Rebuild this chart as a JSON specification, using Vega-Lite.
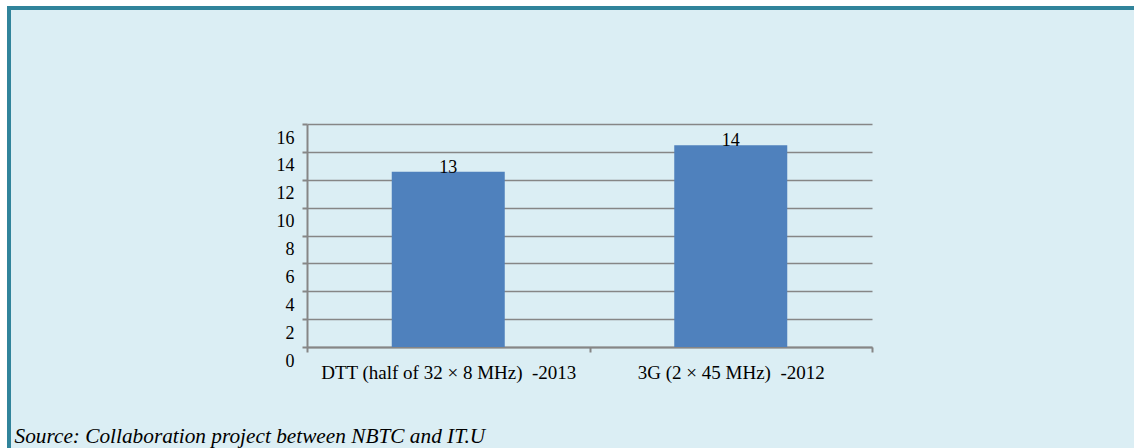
{
  "$schema": "https://vega.github.io/schema/vega-lite/v6.json",
  "width": 1125,
  "height": 440,
  "autosize": {"type": "none"},
  "padding": {"left": 9, "top": 8, "right": 0, "bottom": 0},
  "background": "white",
  "config": {
    "view": {"fill": "#DBEEF4", "stroke": "#31849B", "strokeWidth": 4, "strokeDash": [1125, 1565, 440, 6000]},
    "font": "Liberation Serif"
  },
  "data": {
    "values": [
      {"category": "DTT (half of 32 × 8 MHz)\u00a0 -2013", "value": 12.58},
      {"category": "3G (2 × 45 MHz)\u00a0 -2012", "value": 14.48}
    ]
  },
  "encoding": {
    "x": {
      "field": "category",
      "type": "nominal",
      "sort": null,
      "scale": {"type": "band", "range": [298, 863], "paddingInner": 0, "paddingOuter": 0},
      "axis": {
        "title": "Source: Collaboration project between NBTC and IT.U",
        "titleFont": "Liberation Serif",
        "titleFontStyle": "italic",
        "titleFontWeight": "normal",
        "titleFontSize": 21.3,
        "titleColor": "black",
        "titleAlign": "left",
        "titleAnchor": "start",
        "titleBaseline": "alphabetic",
        "titleX": 5,
        "titleY": 95,
        "offset": -101,
        "labelAngle": 0,
        "labelLimit": 0,
        "labelFontSize": 19,
        "labelColor": "black",
        "labelPadding": 11,
        "tickBand": "extent",
        "tickSize": 5,
        "tickColor": "#868686",
        "tickWidth": 2,
        "domainColor": "#868686",
        "domainWidth": 2,
        "grid": false
      }
    },
    "y": {
      "field": "value",
      "type": "quantitative",
      "scale": {"domain": [0, 16], "range": [339, 116], "nice": false},
      "axis": {
        "title": null,
        "values": [0, 2, 4, 6, 8, 10, 12, 14, 16],
        "offset": -298,
        "labelOffset": 14,
        "labelFontSize": 18,
        "labelColor": "black",
        "labelPadding": 8,
        "tickSize": 5,
        "tickColor": "#868686",
        "tickWidth": 2,
        "domainColor": "#868686",
        "domainWidth": 2,
        "grid": true,
        "gridColor": "#868686",
        "gridWidth": 1.5,
        "gridOpacity": 1
      }
    }
  },
  "layer": [
    {"mark": {"type": "bar", "color": "#4F81BD", "width": {"band": 0.4}}},
    {
      "mark": {"type": "text", "baseline": "alphabetic", "fontSize": 18, "font": "Liberation Serif", "color": "black", "dy": 1},
      "encoding": {"text": {"field": "value", "type": "quantitative", "format": ".0f"}}
    }
  ]
}
